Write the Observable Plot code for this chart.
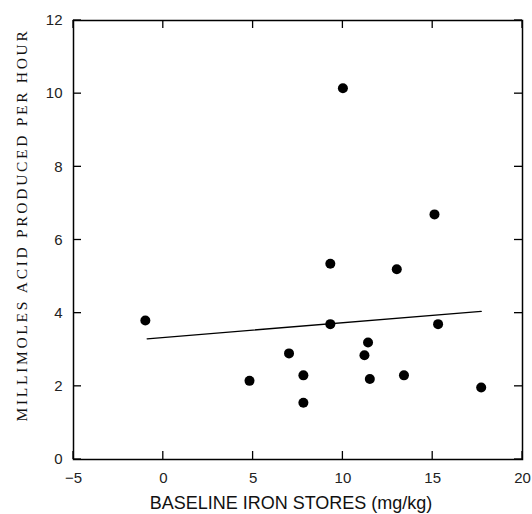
<!DOCTYPE html>
<html>
<head>
<meta charset="utf-8">
<script src="https://cdn.jsdelivr.net/npm/d3@7"></script>
<script src="https://cdn.jsdelivr.net/npm/@observablehq/plot@0.6"></script>
<style>
  html, body { margin: 0; padding: 0; background: #fff; }
  #chart { position: relative; width: 532px; height: 514px; }
</style>
</head>
<body>
<div id="chart"></div>
<script>
// Baseline iron stores (mg/kg)
const ironStores = [-1.0, 4.8, 9.3, 13.0, 9.3, 15.3, 11.4, 7.0, 11.2, 7.8, 11.5, 13.4, 7.8, 17.7, 10.0, 15.1];
// Millimoles acid produced per hour
const acidRate   = [3.8, 2.15, 5.35, 5.2, 3.7, 3.7, 3.2, 2.9, 2.85, 2.3, 2.2, 2.3, 1.55, 1.97, 10.15, 6.7];
// Regression line end points
const fitX = [-0.9, 17.7];
const fitY = [3.3, 4.05];
const xTicks = [-5, 0, 5, 10, 15, 20];
const yTicks = [0, 2, 4, 6, 8, 10, 12];

const points = ironStores.map((x, i) => ({x, y: acidRate[i]}));
const fit = fitX.map((x, i) => ({x, y: fitY[i]}));

const W = 532, H = 514, mL = 73, mT = 20, mR = 10, mB = 55, tk = 8;

const plot = Plot.plot({
  width: W,
  height: H,
  marginLeft: mL,
  marginTop: mT,
  marginRight: mR,
  marginBottom: mB,
  style: {fontFamily: "Liberation Sans, Arial, sans-serif", fontSize: "15px", color: "#111", background: "#fff"},
  x: {domain: [-5, 20]},
  y: {domain: [0, 12]},
  marks: [
    Plot.frame({stroke: "#000", strokeWidth: 1.5}),
    Plot.axisX({anchor: "bottom", ticks: xTicks, tickSize: 0, tickPadding: 13, label: null, fill: "#222"}),
    Plot.axisY({anchor: "left", ticks: yTicks, tickSize: 0, tickPadding: 11, label: null, fill: "#222"}),
    Plot.line(fit, {x: "x", y: "y", stroke: "#000", strokeWidth: 1.3}),
    Plot.dot(points, {x: "x", y: "y", r: 5, fill: "#000", stroke: "none"})
  ]
});

const svg = d3.select(plot);
const sx = plot.scale("x"), sy = plot.scale("y");
const frameTop = mT, frameBottom = H - mB, frameLeft = mL, frameRight = W - mR;
// inward tick marks on all four sides, positioned through Plot's scales
const g = svg.append("g").attr("stroke", "#000").attr("stroke-width", 1.3);
xTicks.forEach(v => {
  const px = sx.apply(v);
  g.append("line").attr("x1", px).attr("x2", px).attr("y1", frameBottom).attr("y2", frameBottom - tk);
  g.append("line").attr("x1", px).attr("x2", px).attr("y1", frameTop).attr("y2", frameTop + tk);
});
yTicks.forEach(v => {
  const py = sy.apply(v);
  g.append("line").attr("y1", py).attr("y2", py).attr("x1", frameLeft).attr("x2", frameLeft + tk);
  g.append("line").attr("y1", py).attr("y2", py).attr("x1", frameRight).attr("x2", frameRight - tk);
});

// Axis titles
svg.append("text")
  .attr("x", 291).attr("y", 509)
  .attr("text-anchor", "middle")
  .attr("font-family", "Liberation Sans, Arial, sans-serif")
  .attr("font-size", 18)
  .attr("fill", "#111")
  .text("BASELINE IRON STORES (mg/kg)");
svg.append("text")
  .attr("transform", "translate(27,225) rotate(-90)")
  .attr("text-anchor", "middle")
  .attr("font-family", "Liberation Serif, Times New Roman, serif")
  .attr("font-size", 15.5)
  .attr("letter-spacing", "2.7px")
  .attr("fill", "#111")
  .text("MILLIMOLES ACID PRODUCED PER HOUR");

document.getElementById("chart").appendChild(plot);
</script>
</body>
</html>
